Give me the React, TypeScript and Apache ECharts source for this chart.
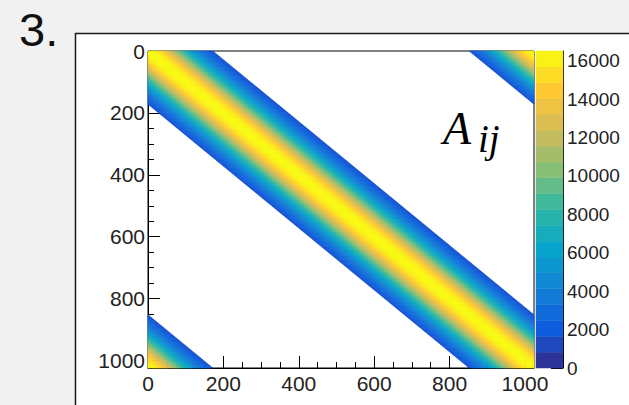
import React, { useEffect, useRef } from "react";
import * as echarts from "echarts";

// ---- data ----
const matrixSize = 1024;
const binWidth = 8;
// value of A_ij against |i - j| (circular), one entry per 8-unit offset bin
const bandProfile = [
  16500, 16430, 16150, 15800, 15200, 14500, 13700, 12800, 11900, 10900, 9800,
  8800, 7800, 6900, 6000, 5100, 4400, 3700, 3100, 2600, 2100, 1700,
];
const axisTickValues = [0, 200, 400, 600, 800, 1000];
const minorTickValues = [
  50, 100, 150, 250, 300, 350, 450, 500, 550, 650, 700, 750, 850, 900, 950,
];
const zTickValues = [0, 2000, 4000, 6000, 8000, 10000, 12000, 14000, 16000];
const zMax = 16500;
const contourCount = 20;
// ROOT kBird palette
const birdColors = [
  "#352a87", "#0f5cdd", "#1481d6", "#06a4ca", "#2eb7a4",
  "#87bf77", "#d1bb59", "#fec832", "#f9fb0e",
];

// ---- tables built for the library ----
const heatData: number[][] = [];
for (let k = -(bandProfile.length - 1); k <= bandProfile.length - 1; k++) {
  const v = bandProfile[Math.abs(k)];
  for (const shift of [-matrixSize, 0, matrixSize]) {
    heatData.push([k * binWidth + shift, 0, v]);
  }
}
const colorbarData: number[][] = [];
for (let c = 0; c < contourCount; c++) {
  const lo = (c * zMax) / contourCount;
  const hi = ((c + 1) * zMax) / contourCount;
  colorbarData.push([0, lo, (lo + hi) / 2, hi]);
}

function clip(pts: number[][], axis: number, bound: number, keepGreater: boolean) {
  const out: number[][] = [];
  for (let i = 0; i < pts.length; i++) {
    const a = pts[i];
    const b = pts[(i + 1) % pts.length];
    const ina = keepGreater ? a[axis] >= bound : a[axis] <= bound;
    const inb = keepGreater ? b[axis] >= bound : b[axis] <= bound;
    if (ina) out.push(a);
    if (ina !== inb) {
      const t = (bound - a[axis]) / (b[axis] - a[axis]);
      out.push([a[0] + t * (b[0] - a[0]), a[1] + t * (b[1] - a[1])]);
    }
  }
  return out;
}

function stripPolygon(lo: number, hi: number) {
  const N = matrixSize;
  let pts = [
    [-N + lo, -N],
    [2 * N + lo, 2 * N],
    [2 * N + hi, 2 * N],
    [-N + hi, -N],
  ];
  pts = clip(pts, 0, 0, true);
  pts = clip(pts, 0, N, false);
  pts = clip(pts, 1, 0, true);
  pts = clip(pts, 1, N, false);
  return pts;
}

const labelFont = "Liberation Sans";
const plotRect = { left: 148, top: 51, width: 386, height: 317 };
const fmt = (v: number) => String(Math.round(v));

export default function App() {
  const ref = useRef<HTMLDivElement>(null);
  useEffect(() => {
    if (!ref.current) return;
    const chart = echarts.init(ref.current, null, { renderer: "svg" });
    const blackLine = { color: "#000", width: 1 };
    chart.setOption({
      animation: false,
      backgroundColor: "#f1f1f1",
      graphic: [
        {
          type: "rect",
          z: -10,
          silent: true,
          shape: { x: 75.5, y: 33.5, width: 620, height: 420 },
          style: { fill: "#ffffff", stroke: "#1a1a1a", lineWidth: 1.5 },
        },
        {
          type: "text",
          z: 10,
          style: {
            text: "3.",
            x: 19,
            y: 29,
            fontSize: 47,
            lineHeight: 47,
            fontFamily: "Liberation Sans",
            fill: "#111",
            verticalAlign: "middle",
          },
        },
        {
          type: "text",
          z: 10,
          style: {
            text: "A",
            x: 443,
            y: 128,
            fontSize: 46,
            fontStyle: "italic",
            fontFamily: "Liberation Serif",
            fill: "#000",
            verticalAlign: "middle",
          },
        },
        {
          type: "text",
          z: 10,
          style: {
            text: "ij",
            x: 478,
            y: 138,
            fontSize: 39,
            fontStyle: "italic",
            fontFamily: "Liberation Serif",
            fill: "#000",
            verticalAlign: "middle",
          },
        },
      ],
      grid: [
        {
          ...plotRect,
          show: true,
          backgroundColor: "#ffffff",
          borderColor: "#000",
          borderWidth: 1,
        },
        { left: 536, top: 51, width: 27, height: 317 },
        { ...plotRect, show: false },
      ],
      xAxis: [
        {
          type: "value",
          gridIndex: 0,
          min: 0,
          max: matrixSize,
          interval: 200,
          position: "bottom",
          splitLine: { show: false },
          axisLine: { show: true, onZero: false, lineStyle: blackLine },
          axisTick: {
            show: true,
            inside: true,
            length: 12,
            customValues: axisTickValues,
            lineStyle: blackLine,
          },
          axisLabel: {
            customValues: axisTickValues,
            formatter: fmt,
            fontSize: 21,
            fontFamily: labelFont,
            color: "#222",
            margin: 5,
          },
        },
        {
          type: "value",
          gridIndex: 1,
          min: 0,
          max: 1,
          show: false,
          axisLine: { onZero: false },
        },
        {
          type: "value",
          gridIndex: 2,
          min: 0,
          max: matrixSize,
          interval: 50,
          position: "bottom",
          splitLine: { show: false },
          axisLine: { show: false, onZero: false },
          axisTick: {
            show: true,
            inside: true,
            length: 6,
            customValues: minorTickValues,
            lineStyle: blackLine,
          },
          axisLabel: { show: false },
        },
      ],
      yAxis: [
        {
          type: "value",
          gridIndex: 0,
          min: 0,
          max: matrixSize,
          interval: 200,
          inverse: true,
          position: "left",
          splitLine: { show: false },
          axisLine: { show: true, onZero: false, lineStyle: blackLine },
          axisTick: {
            show: true,
            inside: true,
            length: 12,
            customValues: axisTickValues,
            lineStyle: blackLine,
          },
          axisLabel: {
            customValues: axisTickValues,
            formatter: fmt,
            fontSize: 21,
            fontFamily: labelFont,
            color: "#222",
            margin: 3,
          },
        },
        {
          type: "value",
          gridIndex: 1,
          min: 0,
          max: zMax,
          interval: 2000,
          position: "right",
          splitLine: { show: false },
          axisLine: { show: true, onZero: false, lineStyle: blackLine },
          axisTick: {
            show: true,
            inside: true,
            length: 12,
            customValues: zTickValues,
            lineStyle: blackLine,
          },
          axisLabel: {
            customValues: zTickValues,
            formatter: fmt,
            fontSize: 19,
            fontFamily: labelFont,
            color: "#222",
            margin: 4,
          },
        },
        {
          type: "value",
          gridIndex: 2,
          min: 0,
          max: matrixSize,
          interval: 50,
          inverse: true,
          position: "left",
          splitLine: { show: false },
          axisLine: { show: false, onZero: false },
          axisTick: {
            show: true,
            inside: true,
            length: 6,
            customValues: minorTickValues,
            lineStyle: blackLine,
          },
          axisLabel: { show: false },
        },
      ],
      visualMap: {
        type: "continuous",
        show: false,
        min: 0,
        max: zMax,
        dimension: 2,
        seriesIndex: [0, 1],
        inRange: { color: birdColors },
      },
      series: [
        {
          type: "custom",
          xAxisIndex: 0,
          yAxisIndex: 0,
          z: 1,
          encode: { x: 0, y: 1 },
          data: heatData,
          renderItem: (params: any, api: any) => {
            const o = api.value(0);
            const pts = stripPolygon(o - binWidth / 2, o + binWidth / 2);
            if (pts.length < 3) return { type: "group", children: [] };
            const color = api.visual("color");
            return {
              type: "polygon",
              shape: { points: pts.map((p) => api.coord(p)) },
              style: { fill: color, stroke: color, lineWidth: 0.6 },
            };
          },
        },
        {
          type: "custom",
          xAxisIndex: 1,
          yAxisIndex: 1,
          z: 1,
          encode: { x: 0, y: 1 },
          data: colorbarData,
          renderItem: (params: any, api: any) => {
            const p0 = api.coord([0, api.value(1)]);
            const p1 = api.coord([1, api.value(3)]);
            const color = api.visual("color");
            return {
              type: "rect",
              shape: {
                x: p0[0],
                y: p1[1],
                width: p1[0] - p0[0],
                height: p0[1] - p1[1],
              },
              style: { fill: color, stroke: color, lineWidth: 0.5 },
            };
          },
        },
      ],
    });
    return () => chart.dispose();
  }, []);
  return (
    <div
      ref={ref}
      style={{ position: "fixed", left: 0, top: 0, width: 629, height: 405 }}
    />
  );
}
